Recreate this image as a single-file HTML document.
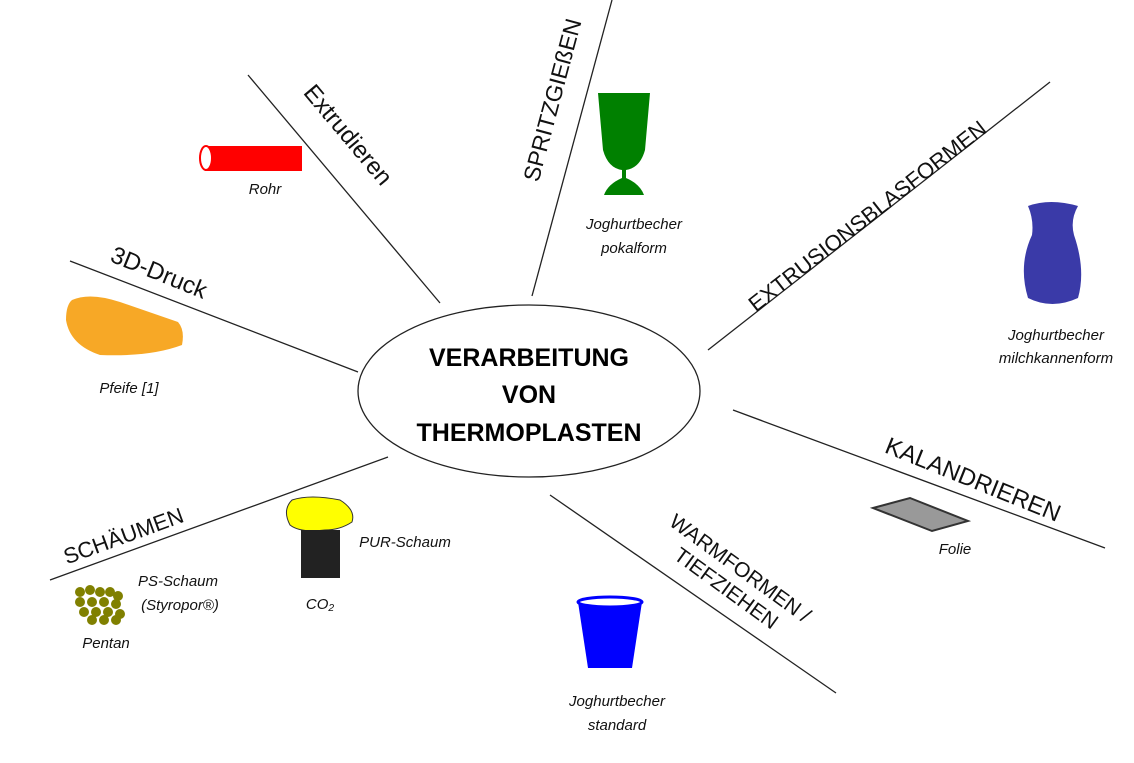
<!DOCTYPE html>
<html><head><meta charset="utf-8"><style>
body{margin:0;width:1134px;height:763px;background:#fff;overflow:hidden;font-family:"Liberation Sans",sans-serif}
svg{position:absolute;left:0;top:0}
</style></head><body>
<svg width="1134" height="763" viewBox="0 0 1134 763" font-family="Liberation Sans, sans-serif">
<g stroke="#222" stroke-width="1.3" fill="none">
<line x1="248" y1="75" x2="440" y2="303"/>
<line x1="612" y1="0" x2="532" y2="296"/>
<line x1="1050" y1="82" x2="708" y2="350"/>
<line x1="733" y1="410" x2="1105" y2="548"/>
<line x1="550" y1="495" x2="836" y2="693"/>
<line x1="388" y1="457" x2="50" y2="580"/>
<line x1="70" y1="261" x2="358" y2="372"/>
<ellipse cx="529" cy="391" rx="171" ry="86"/>
</g>
<g font-weight="bold" font-size="25" text-anchor="middle" fill="#000">
<text x="529" y="366">VERARBEITUNG</text>
<text x="529" y="403">VON</text>
<text x="529" y="441">THERMOPLASTEN</text>
</g>
<g font-size="24" fill="#111" text-anchor="middle">
<text transform="translate(342,140) rotate(50)">Extrudieren</text>
<text transform="translate(560,102) rotate(-75)" font-size="23">SPRITZGIEßEN</text>
<text transform="translate(872,222) rotate(-38)" font-size="22">EXTRUSIONSBLASFORMEN</text>
<text transform="translate(970,487) rotate(22)" font-size="24">KALANDRIEREN</text>
<text transform="translate(736,574) rotate(36)" font-size="21">WARMFORMEN /</text>
<text transform="translate(722,594) rotate(36)" font-size="21">TIEFZIEHEN</text>
<text transform="translate(126,543) rotate(-20)" font-size="22">SCHÄUMEN</text>
<text transform="translate(156,280) rotate(22)">3D-Druck</text>
</g>
<g font-size="15" font-style="italic" fill="#111" text-anchor="middle">
<text x="265" y="194">Rohr</text>
<text x="634" y="229">Joghurtbecher</text>
<text x="634" y="253">pokalform</text>
<text x="1056" y="340">Joghurtbecher</text>
<text x="1056" y="363">milchkannenform</text>
<text x="129" y="393">Pfeife [1]</text>
<text x="955" y="554">Folie</text>
<text x="405" y="547">PUR-Schaum</text>
<text x="178" y="586">PS-Schaum</text>
<text x="180" y="610">(Styropor®)</text>
<text x="320" y="609">CO₂</text>
<text x="106" y="648">Pentan</text>
<text x="617" y="706">Joghurtbecher</text>
<text x="617" y="730">standard</text>
</g>
<rect x="205" y="146" width="97" height="25" fill="#f00"/>
<ellipse cx="206" cy="158" rx="6" ry="12" fill="#fff" stroke="#f00" stroke-width="2"/>
<path d="M598 93 L650 93 L645 150 Q640 168 626 170 L626 178 Q640 184 644 195 L604 195 Q608 184 622 178 L622 170 Q608 168 603 150 Z" fill="#008000"/>
<path d="M1028 206 Q1050 198 1078 206 Q1070 220 1074 235 Q1086 270 1078 298 Q1052 310 1028 298 Q1018 265 1032 235 Q1034 220 1028 206 Z" fill="#3a3aa8"/>
<path d="M72 300 Q90 292 120 302 L178 322 Q185 330 182 345 Q150 357 100 355 Q70 345 66 320 Q66 305 72 300 Z" fill="#f7a826"/>
<polygon points="873,508 910,498 968,521 932,531" fill="#999" stroke="#333" stroke-width="2"/>
<path d="M292 500 Q310 494 340 500 Q356 510 352 522 Q340 530 325 530 Q300 533 290 525 Q282 510 292 500Z" fill="#ff0" stroke="#333"/>
<rect x="301" y="530" width="39" height="48" fill="#222"/>
<g fill="#808000">
<circle cx="80" cy="592" r="5"/><circle cx="90" cy="590" r="5"/><circle cx="100" cy="592" r="5"/><circle cx="110" cy="592" r="5"/><circle cx="118" cy="596" r="5"/>
<circle cx="80" cy="602" r="5"/><circle cx="92" cy="602" r="5"/><circle cx="104" cy="602" r="5"/><circle cx="116" cy="604" r="5"/>
<circle cx="84" cy="612" r="5"/><circle cx="96" cy="612" r="5"/><circle cx="108" cy="612" r="5"/><circle cx="120" cy="614" r="5"/>
<circle cx="92" cy="620" r="5"/><circle cx="104" cy="620" r="5"/><circle cx="116" cy="620" r="5"/>
</g>
<path d="M578 602 L642 602 L632 668 L588 668 Z" fill="#00f"/>
<ellipse cx="610" cy="602" rx="32" ry="5" fill="#fff" stroke="#00f" stroke-width="3"/>
</svg>
</body></html>
